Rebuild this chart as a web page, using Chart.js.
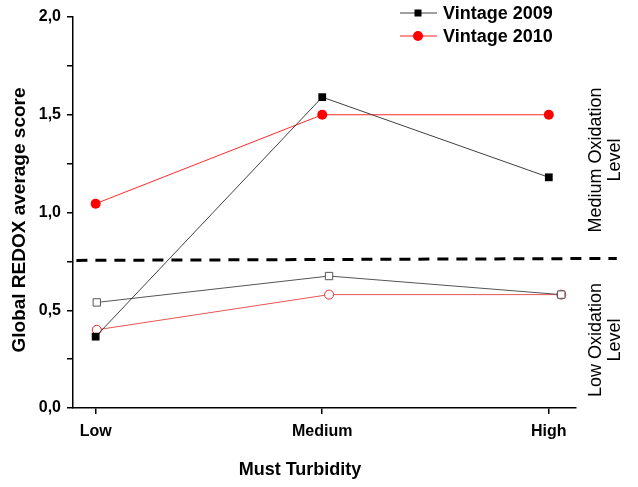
<!DOCTYPE html>
<html>
<head>
<meta charset="utf-8">
<script src="https://cdn.jsdelivr.net/npm/chart.js@4"></script>
<style>
  html, body { margin: 0; padding: 0; background: #fff; }
  #wrap { width: 638px; height: 487px; position: relative; }
</style>
</head>
<body>
<div id="wrap"><canvas id="chart"></canvas></div>
<script>
// categories on the x axis (plotted at 0, 1, 2)
const categories = ['Low', 'Medium', 'High'];
const catPos = [0, 1, 2];
// open markers sit slightly to the right of the category
const openPos = [0.005, 1.03, 2.055];

// filled markers
const vintage2009 = [0.365, 1.59, 1.18];
const vintage2010 = [1.045, 1.5, 1.5];
// open markers
const vintage2009Open = [0.54, 0.675, 0.58];
const vintage2010Open = [0.40, 0.58, 0.58];

// threshold between oxidation levels (dashed)
const thresholdX = [-0.085, 2.3];
const thresholdY = [0.755, 0.765];

const yTicks = [0, 0.5, 1, 1.5, 2];

const FONT = "'Liberation Sans', Arial, sans-serif";

const toXY = (xs, ys) => xs.map((x, i) => ({ x, y: ys[i] }));

const overlay = {
  id: 'overlay',
  afterDraw(chart) {
    const ctx = chart.ctx;
    ctx.save();
    // legend
    const items = [
      { label: 'Vintage 2009', color: '#000', line: '#404040', style: 'rect', y: 13 },
      { label: 'Vintage 2010', color: '#ff0000', line: '#ff2020', style: 'circle', y: 36 }
    ];
    items.forEach(it => {
      ctx.strokeStyle = it.line;
      ctx.lineWidth = 1;
      ctx.beginPath();
      ctx.moveTo(400, it.y);
      ctx.lineTo(437, it.y);
      ctx.stroke();
      ctx.fillStyle = it.color;
      if (it.style === 'rect') {
        ctx.fillRect(414.5, it.y - 3.5, 7, 7);
      } else {
        ctx.beginPath();
        ctx.arc(418, it.y, 5, 0, Math.PI * 2);
        ctx.fill();
      }
      ctx.fillStyle = '#000';
      ctx.font = 'bold 18px ' + FONT;
      ctx.textBaseline = 'middle';
      ctx.textAlign = 'left';
      ctx.fillText(it.label, 443, it.y + 1);
    });

    // axis titles
    ctx.fillStyle = '#000';
    ctx.textAlign = 'center';
    ctx.textBaseline = 'middle';
    ctx.font = 'bold 18px ' + FONT;
    ctx.fillText('Must Turbidity', 300, 470);
    ctx.save();
    ctx.translate(20, 220);
    ctx.rotate(-Math.PI / 2);
    ctx.font = 'bold 19px ' + FONT;
    ctx.fillText('Global REDOX average score', 0, 0);
    ctx.restore();

    // oxidation level labels
    ctx.font = '18px ' + FONT;
    const side = (lines, cy) => {
      ctx.save();
      ctx.translate(605, cy);
      ctx.rotate(-Math.PI / 2);
      ctx.fillText(lines[0], 0, -9);
      ctx.fillText(lines[1], 0, 10);
      ctx.restore();
    };
    side(['Medium Oxidation', 'Level'], 160);
    side(['Low Oxidation', 'Level'], 340);
    ctx.restore();
  }
};

new Chart(document.getElementById('chart'), {
  type: 'scatter',
  data: {
    datasets: [
      {
        label: 'Vintage 2009',
        data: toXY(catPos, vintage2009),
        showLine: true,
        borderColor: '#404040',
        borderWidth: 1,
        pointStyle: 'rect',
        pointRadius: 5.5,
        pointBackgroundColor: '#000',
        pointBorderColor: '#000',
        pointBorderWidth: 0
      },
      {
        label: 'Vintage 2010',
        data: toXY(catPos, vintage2010),
        showLine: true,
        borderColor: '#ff2a2a',
        borderWidth: 1,
        pointStyle: 'circle',
        pointRadius: 5,
        pointBackgroundColor: '#ff0000',
        pointBorderColor: '#ff0000',
        pointBorderWidth: 0
      },
      {
        label: 'Vintage 2009 open',
        data: toXY(openPos, vintage2009Open),
        showLine: true,
        borderColor: '#555',
        borderWidth: 1,
        pointStyle: 'rect',
        pointRadius: 5.2,
        pointBackgroundColor: '#fff',
        pointBorderColor: '#555',
        pointBorderWidth: 1
      },
      {
        label: 'Vintage 2010 open',
        data: toXY(openPos, vintage2010Open),
        showLine: true,
        borderColor: '#e85555',
        borderWidth: 1,
        pointStyle: 'circle',
        pointRadius: 4.5,
        pointBackgroundColor: '#fff',
        pointBorderColor: '#e03030',
        pointBorderWidth: 1
      },
      {
        label: 'threshold',
        data: toXY(thresholdX, thresholdY),
        showLine: true,
        borderColor: '#000',
        borderWidth: 3,
        borderDash: [11, 8],
        pointRadius: 0,
        clip: false
      }
    ]
  },
  options: {
    responsive: true,
    maintainAspectRatio: false,
    animation: false,
    layout: { padding: { top: 17, right: 62, left: 0, bottom: 0 } },
    plugins: {
      legend: { display: false },
      tooltip: { enabled: false }
    },
    scales: {
      x: {
        type: 'linear',
        min: -0.1,
        max: 2.12,
        afterBuildTicks: (scale) => { scale.ticks = catPos.map(v => ({ value: v })); },
        afterFit: (scale) => { scale.height = 79; },
        ticks: {
          autoSkip: false,
          padding: 8,
          color: '#000',
          font: { family: FONT, size: 16, weight: 'bold' },
          callback: (v) => categories[catPos.indexOf(v)]
        },
        grid: { drawOnChartArea: false, tickLength: 6, color: '#000', lineWidth: 1.5 },
        border: { display: true, color: '#000', width: 1.5 },
        title: { display: false }
      },
      y: {
        min: 0,
        max: 2,
        afterFit: (scale) => { scale.width = 73; },
        ticks: {
          stepSize: 0.25,
          autoSkip: false,
          padding: 6,
          color: '#000',
          font: { family: FONT, size: 16, weight: 'bold' },
          callback: (v) => yTicks.includes(v) ? v.toFixed(1).replace('.', ',') : ''
        },
        grid: { drawOnChartArea: false, tickLength: 6, color: '#000', lineWidth: 1.5 },
        border: { display: true, color: '#000', width: 1.5 },
        title: { display: false }
      }
    }
  },
  plugins: [overlay]
});
</script>
</body>
</html>
